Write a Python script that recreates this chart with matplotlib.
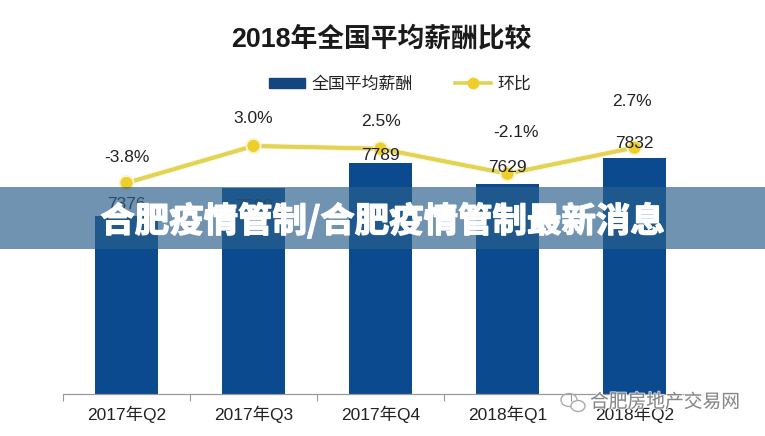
import matplotlib
matplotlib.use('Agg')
import matplotlib.pyplot as plt
import matplotlib.patheffects as pe
from matplotlib.patches import Rectangle, Ellipse
from matplotlib.lines import Line2D

plt.rcParams['font.family'] = ['Liberation Sans', 'Noto Sans CJK SC', 'DejaVu Sans']

W, H = 765, 436

quarters = ['2017年Q2', '2017年Q3', '2017年Q4', '2018年Q1', '2018年Q2']
salary = [7376, 7599, 7789, 7629, 7832]
qoq = [-3.8, 3.0, 2.5, -2.1, 2.7]

# label offsets from the points, in pixels
salary_off = [(0, 12), (0, -19), (0, 8), (0, 16), (0, 14)]
qoq_off = [(0, 25), (0, 27), (0, 27), (8, 41), (-3, 46)]

BLUE = '#0b4a8f'
YELLOW = '#e3d253'
DOT = '#eecf2a'
TXT = '#222222'


def fx(px):
    return px / W


def fy(px):
    return 1 - px / H


fig = plt.figure(figsize=(W / 100, H / 100), dpi=100)
ax = fig.add_axes([fx(63), fy(394), fx(635), (394 - 100) / H])
ax2 = ax.twinx()
ax2.set_zorder(ax.get_zorder() + 1)

x = list(range(len(quarters)))
ax.bar(x, salary, width=0.5, color=BLUE)
ax.set_xlim(-0.5, 4.5)
ax.set_ylim(6000, 8279)
ax2.set_ylim(-42.6, 11.45)

ax.set_yticks([])
ax2.set_yticks([])
for a in (ax, ax2):
    for s in ('top', 'left', 'right'):
        a.spines[s].set_visible(False)
    a.spines['bottom'].set_color('#999999')
    a.patch.set_visible(False)

ax.set_xticks([i - 0.5 for i in range(6)])
ax.set_xticklabels([])
ax.tick_params(axis='x', length=5, color='#999999', width=0.8)
for i, q in zip(x, quarters):
    ax.annotate(q, (i, 6000), xytext=(0, -20), textcoords='offset pixels',
                ha='center', va='center', fontsize=12.5, color=TXT)

ax2.plot(x, qoq, color=YELLOW, lw=2.6, marker='o', ms=7.5, mfc=DOT, mec=DOT,
         path_effects=[pe.withStroke(linewidth=4, foreground='#f9f4cc'), pe.Normal()])

# value labels go on the top axes so they stay above the line
for i, v, off in zip(x, salary, salary_off):
    ax2.annotate(str(v), (i, v), xycoords=ax.transData, xytext=off, textcoords='offset pixels',
                 ha='center', va='center', fontsize=12.5, color=TXT, zorder=5)
for i, v, off in zip(x, qoq, qoq_off):
    ax2.annotate('%.1f%%' % v, (i, v), xytext=off, textcoords='offset pixels',
                 ha='center', va='center', fontsize=12.5, color=TXT)

fig.text(fx(381), fy(39), '2018年全国平均薪酬比较', ha='center', va='center',
         fontsize=19.3, fontweight='bold', color='#1a1a1a')

handles = [Rectangle((0, 0), 1, 1, color='#14457f'),
           Line2D([0], [0], color=YELLOW, lw=2.6, marker='o', ms=7.5, mfc=DOT, mec=DOT)]
fig.legend(handles, ['全国平均薪酬', '环比'], loc='center', bbox_to_anchor=(fx(400), fy(84)),
           ncol=2, frameon=False, fontsize=12.2, handlelength=2.1, handleheight=0.5,
           columnspacing=2.5, handletextpad=0.4, labelcolor=TXT)

# banner across the middle
fig.add_artist(Rectangle((0, fy(249)), 1, 62 / H, transform=fig.transFigure,
                         facecolor='#2a5f8c', alpha=0.67, edgecolor='none', zorder=10))
fig.text(fx(383), fy(221), '合肥疫情管制/合肥疫情管制最新消息', ha='center', va='center',
         fontsize=24.8, fontweight='bold', color='white', zorder=11,
         family=['Noto Sans CJK SC', 'DejaVu Sans'],
         path_effects=[pe.withStroke(linewidth=1, foreground='white')])

# watermark
fig.add_artist(Ellipse((fx(569), fy(400)), 16 / W, 13 / H, transform=fig.transFigure,
                       facecolor='none', edgecolor='#aaaaaa', lw=1, zorder=9))
fig.add_artist(Ellipse((fx(578), fy(406)), 14 / W, 11 / H, transform=fig.transFigure,
                       facecolor='white', edgecolor='#aaaaaa', lw=1, zorder=9))
fig.text(fx(665), fy(402), '合肥房地产交易网', ha='center', va='center', fontsize=13.5,
         color='#777777', alpha=0.85, zorder=9, family=['Noto Sans CJK SC', 'DejaVu Sans'],
         path_effects=[pe.withStroke(linewidth=1.5, foreground='white', alpha=0.7)])

fig.savefig('out.png', dpi=100)
